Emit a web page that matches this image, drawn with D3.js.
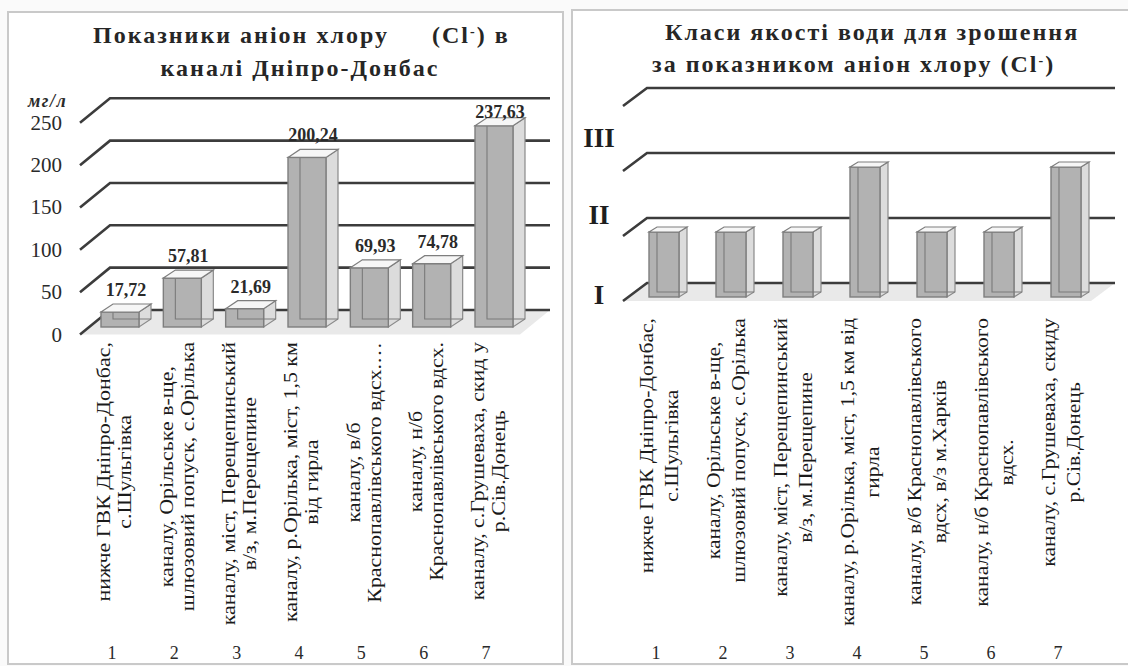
<!DOCTYPE html>
<html>
<head>
<meta charset="utf-8">
<script src="https://cdn.jsdelivr.net/npm/d3@7"></script>
<style>
  body { margin: 0; background: #fafafa; }
  svg { display: block; }
</style>
</head>
<body>
<svg id="chart" width="1128" height="666"></svg>
<script>
// ---- data ----
const sites = ["1", "2", "3", "4", "5", "6", "7"];

const siteNamesLeft = [
  ["нижче ГВК Дніпро-Донбас,", "с.Шульгівка"],
  ["каналу, Орільське в-ще,", "шлюзовий попуск, с.Орілька"],
  ["каналу, міст, Перещепинський", "в/з, м.Перещепине"],
  ["каналу, р.Орілька, міст, 1,5 км", "від гирла"],
  ["каналу, в/б", "Краснопавлівського вдсх.…"],
  ["каналу, н/б", "Краснопавлівського вдсх."],
  ["каналу, с.Грушеваха, скид у", "р.Сів.Донець"]
];

const siteNamesRight = [
  ["нижче ГВК Дніпро-Донбас,", "с.Шульгівка"],
  ["каналу, Орільське в-ще,", "шлюзовий попуск, с.Орілька"],
  ["каналу, міст, Перещепинський", "в/з, м.Перещепине"],
  ["каналу, р.Орілька, міст, 1,5 км від", "гирла"],
  ["каналу, в/б Краснопавлівського", "вдсх, в/з м.Харків"],
  ["каналу, н/б Краснопавлівського", "вдсх."],
  ["каналу, с.Грушеваха, скиду", "р.Сів.Донець"]
];

const chloride = [17.72, 57.81, 21.69, 200.24, 69.93, 74.78, 237.63];   // мг/л
const chlorideTicks = [0, 50, 100, 150, 200, 250];

const waterClass = [2, 2, 2, 3, 2, 2, 3];       // irrigation water quality class
const classLevels = [1, 2, 3, 4];
const classNames = ["I", "II", "III"];
const classNamePos = [0.82, 2.05, 3.23];

// ---- helpers ----
const svg = d3.select("#chart");
const uaFormat = d3.formatLocale({ decimal: ",", thousands: " ", grouping: [3], currency: ["", ""] }).format(".2f");
const SERIF = "'Liberation Serif', 'Times New Roman', serif";

function panel(x, y, w, h) {
  svg.append("rect").attr("x", x).attr("y", y).attr("width", w).attr("height", h)
    .attr("fill", "#ffffff").attr("stroke", "#c9c9c9").attr("stroke-width", 2);
}

// back-wall gridlines with their receding diagonal to the front edge
function wall(g, levels, y, x0, x1, dx, dy) {
  const base = levels[0];
  g.append("path")
    .attr("d", `M${x0},${y(base)} L${x1},${y(base)} L${x1 + dx},${y(base) + dy} L${x0 + dx},${y(base) + dy} Z`)
    .attr("fill", "#e9e9e9");
  g.selectAll("path.grid").data(levels).join("path")
    .attr("class", "grid")
    .attr("d", d => `M${x0 + dx},${y(d) + dy} L${x0},${y(d)} L${x1},${y(d)}`)
    .attr("fill", "none").attr("stroke", "#3c3c3c").attr("stroke-width", 2.6);
}

// a translucent 3-D column: front face, side, top and the hidden back edges
function column(g, x, yTop, yBot, w, dx, dy) {
  g.append("path")
    .attr("d", `M${x + w},${yTop} L${x + w + dx},${yTop + dy} L${x + w + dx},${yBot + dy} L${x + w},${yBot} Z`)
    .attr("fill", "#dcdcdc").attr("stroke", "#8a8a8a").attr("stroke-width", 1.2);
  g.append("rect").attr("x", x).attr("y", yTop).attr("width", w).attr("height", yBot - yTop)
    .attr("fill", "#b2b2b2").attr("stroke", "#7e7e7e").attr("stroke-width", 1.4);
  g.append("path")
    .attr("d", `M${x + dx},${yTop + dy} L${x + dx},${yBot + dy} L${x + w + dx},${yBot + dy}`)
    .attr("fill", "none").attr("stroke", "#7a7a7a").attr("stroke-width", 1.1);
  g.append("path")
    .attr("d", `M${x},${yTop} L${x + dx},${yTop + dy} L${x + w + dx},${yTop + dy} L${x + w},${yTop} Z`)
    .attr("fill", "#f6f6f6").attr("stroke", "#7e7e7e").attr("stroke-width", 1.2);
}

// rotated two-line site names; lines centred on each other, block starting at `top`
function siteNames(g, names, x, top, opts) {
  const groups = g.selectAll("g.site").data(names).join("g").attr("class", "site");
  const text = groups.append("text")
    .attr("font-family", SERIF).attr("font-size", opts.size).attr("fill", "#1a1a1a")
    .attr("text-anchor", "middle");
  text.selectAll("tspan").data(d => d.map((s, i) => ({ s, i, n: d.length }))).join("tspan")
    .attr("x", 0)
    .attr("y", d => (d.i - (d.n - 1) / 2) * opts.lineH + opts.size * 0.33)
    .text(d => d.s);
  groups.each(function (d, i) {
    let maxLen = 0;
    d3.select(this).selectAll("tspan").each(function () {
      maxLen = Math.max(maxLen, this.getComputedTextLength());
    });
    const cy = top + maxLen * opts.stretch / 2;
    d3.select(this).attr("transform",
      `translate(${x(sites[i]) + opts.shift},${cy}) rotate(-90) scale(${opts.stretch},1)`);
  });
}

function title(lines) {
  lines.forEach(l => {
    const t = svg.append("text").attr("x", l.x).attr("y", l.y)
      .attr("font-family", SERIF).attr("font-size", 24).attr("font-weight", "bold")
      .attr("letter-spacing", 2).attr("fill", "#262626").attr("text-anchor", l.anchor || "start");
    l.parts.forEach(p => {
      const ts = t.append("tspan").text(p.t);
      if (p.sup) ts.attr("baseline-shift", "super").attr("font-size", 14);
    });
  });
}

// ---- panels ----
panel(8, 12, 555, 652);
panel(572, 10, 562, 654);

// ================= left chart: chloride, мг/л =================
const xL = d3.scalePoint().domain(sites).range([112, 486]);
const yL = d3.scaleLinear().domain([0, 250]).range([310, 98.3]);
const gL = svg.append("g");

wall(gL, chlorideTicks, yL, 110, 550, -30, 24.5);

gL.selectAll("text.tick").data(chlorideTicks).join("text")
  .attr("class", "tick")
  .attr("x", 62).attr("y", d => yL(d) + 24.5 + 7)
  .attr("text-anchor", "end").attr("font-family", SERIF).attr("font-size", 21).attr("fill", "#2a2a2a")
  .text(d => d);

gL.append("text").attr("x", 28).attr("y", 107)
  .attr("font-family", SERIF).attr("font-size", 18).attr("font-style", "italic").attr("font-weight", "bold")
  .attr("letter-spacing", 1.5).attr("fill", "#2a2a2a").text("мг/л");

const barL = { w: 38, dx: 12, dy: -8, shift: -11, front: 17 };
chloride.forEach((v, i) => {
  const x = xL(sites[i]) + barL.shift;
  column(gL, x, yL(v) + barL.front, yL(0) + barL.front, barL.w, barL.dx, barL.dy);
});

gL.selectAll("text.value").data(chloride).join("text")
  .attr("class", "value")
  .attr("x", (d, i) => xL(sites[i]) + barL.shift + (barL.w + barL.dx) / 2)
  .attr("y", d => Math.max(yL(d) + barL.front - 16, 118))
  .attr("text-anchor", "middle").attr("font-family", SERIF).attr("font-size", 18)
  .attr("font-weight", "bold").attr("fill", "#2a2a2a")
  .text(d => uaFormat(d));

siteNames(gL, siteNamesLeft, xL, 342, { size: 18, lineH: 21, stretch: 1.22, shift: 3 });

gL.selectAll("text.num").data(sites).join("text")
  .attr("class", "num")
  .attr("x", d => xL(d)).attr("y", 659)
  .attr("text-anchor", "middle").attr("font-family", SERIF).attr("font-size", 18).attr("fill", "#2a2a2a")
  .text(d => d);

title([
  { x: 93, y: 43, parts: [{ t: "Показники аніон хлору" }] },
  { x: 432, y: 43, parts: [{ t: "(Cl" }, { t: "-", sup: true }, { t: ") в" }] },
  { x: 300, y: 76, anchor: "middle", parts: [{ t: "каналі Дніпро-Донбас" }] }
]);

// ================= right chart: water quality class =================
const xR = d3.scalePoint().domain(sites).range([656, 1058]);
const yR = d3.scaleLinear().domain([1, 4]).range([283, 88]);
const gR = svg.append("g");

wall(gR, classLevels, yR, 647, 1115, -24, 18);

gR.selectAll("text.cls").data(classNames).join("text")
  .attr("class", "cls")
  .attr("x", 599).attr("y", (d, i) => yR(classNamePos[i]) + 9)
  .attr("text-anchor", "middle").attr("font-family", SERIF).attr("font-size", 27)
  .attr("font-weight", "bold").attr("fill", "#1e1e1e")
  .text(d => d);

const barR = { w: 30, dx: 8, dy: -5, shift: -7, front: 14 };
waterClass.forEach((v, i) => {
  const x = xR(sites[i]) + barR.shift;
  column(gR, x, yR(v) + barR.front, yR(1) + barR.front, barR.w, barR.dx, barR.dy);
});

siteNames(gR, siteNamesRight, xR, 318, { size: 18, lineH: 25, stretch: 1.2, shift: 4 });

gR.selectAll("text.num").data(sites).join("text")
  .attr("class", "num")
  .attr("x", d => xR(d)).attr("y", 659)
  .attr("text-anchor", "middle").attr("font-family", SERIF).attr("font-size", 18).attr("fill", "#2a2a2a")
  .text(d => d);

title([
  { x: 665, y: 40, parts: [{ t: "Класи якості води для зрошення" }] },
  { x: 652, y: 72, parts: [{ t: "за показником аніон хлору (Cl" }, { t: "-", sup: true }, { t: ")" }] }
]);
</script>
</body>
</html>
